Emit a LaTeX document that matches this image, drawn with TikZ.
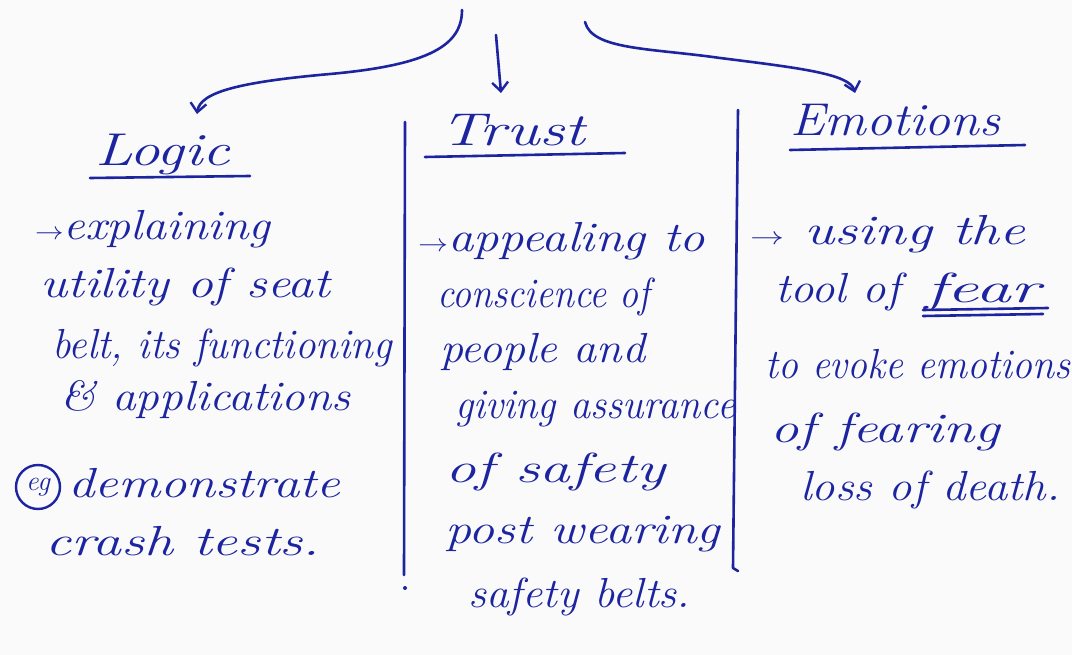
\documentclass[tikz,border=0pt]{standalone}
\usepackage{graphicx}
\usetikzlibrary{arrows.meta}
\definecolor{ink}{RGB}{28,36,160}
\definecolor{paper}{RGB}{250,250,250}
\newcommand\hw[2]{\resizebox{#1pt}{\height}{#2}}
\begin{document}
\begin{tikzpicture}[x=1pt,y=-1pt,
  txt/.style={text=ink,font=\fontsize{42}{46}\selectfont\itshape,anchor=base west,inner sep=0pt},
  head/.style={text=ink,font=\fontsize{46}{50}\selectfont\itshape,anchor=base west,inner sep=0pt},
  pen/.style={draw=ink,line width=2.6pt,line cap=round,line join=round},
  tip/.style={-{Straight Barb[length=9pt,width=16pt,line width=2.4pt]}}]
\fill[paper] (0,0) rectangle (1072,655);
\useasboundingbox (0,0) rectangle (1072,655);

% headings
\node[head] (logic) at (95,166) {\hw{135}{Logic}};
\node[head] (trust) at (440,146) {\hw{145}{Trust}};
\node[head] (emo) at (790,136) {\hw{210}{Emotions}};
\draw[pen] (90,178) -- (250,176);
\draw[pen] (425,157) -- (625,153);
\draw[pen] (790,150) -- (1025,145);

% connectors
\coordinate (srcL) at (462,10);
\coordinate (srcM) at (496,35);
\coordinate (srcR) at (585,22);
\coordinate (endL) at (197,114);
\coordinate (endM) at (501,93);
\coordinate (endR) at (855,93);
\draw[pen,tip] (srcL) .. controls (462,45) and (430,65) .. (330,74) .. controls (240,82) and (200,92) .. (endL);
\draw[pen,tip] (srcM) -- (endM);
\draw[pen,tip] (srcR) .. controls (592,50) and (650,48) .. (720,58) .. controls (800,68) and (850,74) .. (endR);

% dividers
\draw[pen] (405,122) -- (404,575);
\fill[ink] (405,588) circle (2pt);
\draw[pen] (738,110) -- (733,568) -- (738,571);

% left column
\node[txt] (l1) at (35,240) {\hw{235}{$\rightarrow$explaining}};
\node[txt] (l2) at (40,298) {\hw{290}{utility of seat}};
\node[txt] (l3) at (52,358) {\hw{340}{belt, its functioning}};
\node[txt] (l4) at (60,410) {\hw{290}{\& applications}};
\node[circle,draw=ink,line width=2.4pt,text=ink,inner sep=1pt,minimum size=44pt,font=\fontsize{28}{30}\selectfont\itshape] (eg) at (38,487) {eg};
\node[txt] (l5) at (68,497) {\hw{272}{demonstrate}};
\node[txt] (l6) at (45,555) {\hw{275}{crash tests.}};

% middle column
\node[txt] (m1) at (418,252) {\hw{287}{$\rightarrow$appealing to}};
\node[txt] (m2) at (437,308) {\hw{213}{conscience of}};
\node[txt] (m3) at (440,362) {\hw{205}{people and}};
\node[txt] (m4) at (455,418) {\hw{280}{giving assurance}};
\node[txt] (m5) at (445,482) {\hw{220}{of safety}};
\node[txt] (m6) at (445,543) {\hw{275}{post wearing}};
\node[txt] (m7) at (468,607) {\hw{222}{safety belts.}};

% right column
\node[txt] (r1) at (750,245) {\hw{275}{$\rightarrow$ using the}};
\node[txt] (r2) at (775,302) {\hw{125}{tool of}};
\node[txt] (fear) at (925,302) {\hw{115}{fear}};
\draw[pen] (fear.base west) ++(-2,8) -- ++(125,-2);
\draw[pen] (fear.base west) ++(-2,14) -- ++(120,-2);
\node[txt] (r3) at (765,378) {\hw{305}{to evoke emotions}};
\node[txt] (r4) at (770,442) {\hw{230}{of fearing}};
\node[txt] (r5) at (800,500) {\hw{260}{loss of death.}};
\end{tikzpicture}
\end{document}
